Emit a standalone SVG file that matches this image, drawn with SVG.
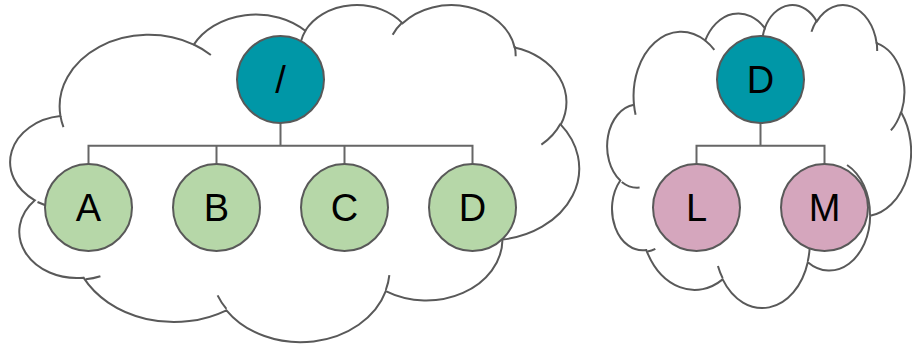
<svg xmlns="http://www.w3.org/2000/svg" width="912" height="344" viewBox="0 0 912 344">
<style>
.cloud{fill:#ffffff;stroke:#595959;stroke-width:2;vector-effect:non-scaling-stroke}
.inner{fill:none;stroke:#595959;stroke-width:2;vector-effect:non-scaling-stroke}
.conn{fill:none;stroke:#666666;stroke-width:2}
.teal{fill:#0097a7;stroke:#595959;stroke-width:2}
.green{fill:#b6d7a8;stroke:#595959;stroke-width:2}
.pink{fill:#d5a6bd;stroke:#595959;stroke-width:2}
.lbl{font-family:"Liberation Sans",Arial,sans-serif;font-size:38px;fill:#000000;text-anchor:middle}
</style>
<g id="cloud1" transform="translate(9,4) scale(0.013194,0.0078009)">
<path class="cloud" d="M3900 14370 A6753 9190 0 0 1 14005 5202 A5333 7267 0 0 1 22455 3431 A4365 5945 0 0 1 29833 2480 A4857 6595 0 0 1 38318 5575 A5333 7273 0 0 1 41819 15459 A6775 9220 0 0 1 37403 30200 A5785 7867 0 0 1 28555 36810 A6752 9215 0 0 1 16480 39262 A7720 10543 0 0 1 5649 35080 A4360 5918 0 0 1 1958 25158 A4345 5945 0 0 1 3900 14370 Z"/>
<path class="inner" d="M4693 26177 A4345 5945 0 0 1 2160 25380 M6928 34899 A4360 5918 0 0 1 5820 35281 M16478 39090 A6752 9215 0 0 1 15810 37350 M28827 34751 A6752 9215 0 0 1 28560 36660 M34129 22954 A5785 7867 0 0 1 37381 30090 M41798 15354 A5333 7273 0 0 1 40350 18030 M38324 5426 A4857 6595 0 0 1 38401 6690 M29078 3952 A4857 6595 0 0 1 29820 2340 M22141 4720 A4365 5945 0 0 1 22500 3331 M14000 5192 A6753 9190 0 0 1 15299 6539 M4127 15789 A6753 9190 0 0 1 3901 14371"/>
</g>
<g id="cloud2" transform="translate(606.5,4) scale(0.0070486,0.0070139)">
<path class="cloud" d="M3900 14370 A6753 9190 0 0 1 14005 5202 A5333 7267 0 0 1 22455 3431 A4365 5945 0 0 1 29833 2480 A4857 6595 0 0 1 38318 5575 A5333 7273 0 0 1 41819 15459 A6775 9220 0 0 1 37403 30200 A5785 7867 0 0 1 28555 36810 A6752 9215 0 0 1 16480 39262 A7720 10543 0 0 1 5649 35080 A4360 5918 0 0 1 1958 25158 A4345 5945 0 0 1 3900 14370 Z"/>
<path class="inner" d="M4693 26177 A4345 5945 0 0 1 2160 25380 M6928 34899 A4360 5918 0 0 1 5820 35281 M16478 39090 A6752 9215 0 0 1 15810 37350 M28827 34751 A6752 9215 0 0 1 28560 36660 M34129 22954 A5785 7867 0 0 1 37381 30090 M41798 15354 A5333 7273 0 0 1 40350 18030 M38324 5426 A4857 6595 0 0 1 38401 6690 M29078 3952 A4857 6595 0 0 1 29820 2340 M22141 4720 A4365 5945 0 0 1 22500 3331 M14000 5192 A6753 9190 0 0 1 15299 6539 M4127 15789 A6753 9190 0 0 1 3901 14371"/>
</g>
<g id="connectors">
<path class="conn" d="M280.5 123 V145.7 M88.5 164 V145.7 H472.5 V164 M216.5 145.7 V164 M344.5 145.7 V164"/>
<path class="conn" d="M760.5 123 V145.7 M696.5 164 V145.7 H824.5 V164"/>
</g>
<g id="node-root1"><circle class="teal" cx="280.5" cy="79.5" r="43.5"/><text class="lbl" x="280.5" y="93">/</text></g>
<g id="node-A"><circle class="green" cx="88.5" cy="207.5" r="43.5"/><text class="lbl" x="88.5" y="221">A</text></g>
<g id="node-B"><circle class="green" cx="216.5" cy="207.5" r="43.5"/><text class="lbl" x="216.5" y="221">B</text></g>
<g id="node-C"><circle class="green" cx="344.5" cy="207.5" r="43.5"/><text class="lbl" x="344.5" y="221">C</text></g>
<g id="node-D1"><circle class="green" cx="472.5" cy="207.5" r="43.5"/><text class="lbl" x="472.5" y="221">D</text></g>
<g id="node-root2"><circle class="teal" cx="760.5" cy="79.5" r="43.5"/><text class="lbl" x="760.5" y="93">D</text></g>
<g id="node-L"><circle class="pink" cx="696.5" cy="207.5" r="43.5"/><text class="lbl" x="696.5" y="221">L</text></g>
<g id="node-M"><circle class="pink" cx="824.5" cy="207.5" r="43.5"/><text class="lbl" x="824.5" y="221">M</text></g>
</svg>
